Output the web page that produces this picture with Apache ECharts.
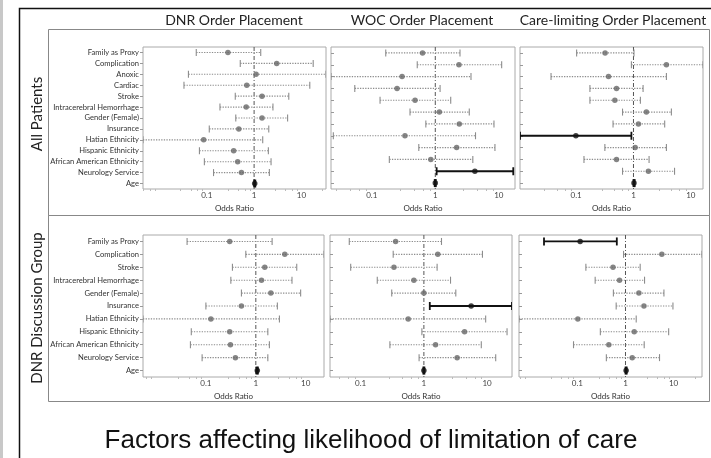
<!DOCTYPE html>
<html><head><meta charset="utf-8">
<script src="https://cdn.jsdelivr.net/npm/echarts@6/dist/echarts.min.js"></script>
<style>html,body{margin:0;padding:0;background:#fff}#c{width:711px;height:458px}</style>
</head><body><div id="c"></div>
<script>
// ---------- categories ----------
const categoriesAll = ['Family as Proxy','Complication','Anoxic','Cardiac','Stroke','Intracerebral Hemorrhage','Gender (Female)','Insurance','Hatian Ethnicity','Hispanic Ethnicity','African American Ethnicity','Neurology Service','Age'];
const categoriesAll12 = ['Family as Proxy','Complication','Anoxic','Stroke','Intracerebral Hemorrhage','Gender (Female)','Insurance','Hatian Ethnicity','Hispanic Ethnicity','African American Ethnicity','Neurology Service','Age'];
const categoriesDisc = ['Family as Proxy','Complication','Stroke','Intracerebral Hemorrhage','Gender (Female)','Insurance','Hatian Ethnicity','Hispanic Ethnicity','African American Ethnicity','Neurology Service','Age'];
const panelTitles = ['DNR Order Placement','WOC Order Placement','Care-limiting Order Placement'];
const rowTitles = ['All Patients','DNR Discussion Group'];
const tickLabels = ['0.1','1','10'];
const axisName = 'Odds Ratio';
const mainTitle = 'Factors affecting likelihood of limitation of care';

// ---------- axis limits (odds ratio) ----------
const axisMin = [0.0045, 0.0228, 0.0105, 0.0055, 0.0327, 0.0061];
const axisMax = [33, 18, 16.3, 23.2, 24.8, 39];

// ---------- All patients: DNR ----------
const allDnrOR  = [0.28, 3.0, 1.1, 0.70, 1.47, 0.68, 1.47, 0.475, 0.086, 0.37, 0.45, 0.54, 1.03];
const allDnrLo  = [0.060, 0.51, 0.041, 0.033, 0.40, 0.19, 0.41, 0.113, 0.0045, 0.070, 0.089, 0.139, 1.0];
const allDnrHi  = [1.38, 17.7, 33, 15, 5.4, 2.5, 5.1, 2.04, 1.52, 2.0, 2.28, 2.1, 1.06];
const allDnrSig = [0,0,0,0,0,0,0,0,0,0,0,0,1];
// ---------- All patients: WOC ----------
const allWocOR  = [0.63, 2.36, 0.30, 0.25, 0.48, 1.16, 2.39, 0.333, 2.17, 0.85, 4.2, 1.0];
const allWocLo  = [0.166, 0.52, 0.0228, 0.054, 0.135, 0.40, 0.71, 0.0248, 0.55, 0.189, 1.05, 0.98];
const allWocHi  = [2.45, 11.1, 3.65, 1.19, 1.75, 3.43, 8.4, 4.3, 8.7, 3.9, 16.9, 1.02];
const allWocSig = [0,0,0,0,0,0,0,0,0,0,1,1];
// ---------- All patients: Care-limiting ----------
const allClOR  = [0.32, 3.75, 0.367, 0.506, 0.473, 1.68, 1.22, 0.099, 1.07, 0.506, 1.82, 1.02];
const allClLo  = [0.102, 0.92, 0.0365, 0.174, 0.174, 0.644, 0.44, 0.0105, 0.317, 0.137, 0.644, 1.0];
const allClHi  = [1.02, 16.3, 3.75, 1.47, 1.32, 4.58, 3.5, 0.92, 3.75, 1.87, 5.2, 1.05];
const allClSig = [0,0,0,0,0,0,0,1,0,0,0,1];
// ---------- DNR discussion group: DNR ----------
const discDnrOR  = [0.30, 3.8, 1.51, 1.3, 2.0, 0.515, 0.126, 0.30, 0.31, 0.39, 1.07];
const discDnrLo  = [0.042, 0.63, 0.34, 0.316, 0.515, 0.10, 0.0055, 0.051, 0.049, 0.084, 1.03];
const discDnrHi  = [2.12, 23.2, 6.6, 5.3, 7.9, 2.7, 2.97, 1.74, 1.87, 1.74, 1.1];
const discDnrSig = [0,0,0,0,0,0,0,0,0,0,1];
// ---------- DNR discussion group: WOC ----------
const discWocOR  = [0.357, 1.66, 0.336, 0.695, 1.0, 5.6, 0.565, 4.4, 1.53, 3.36, 1.0];
const discWocLo  = [0.066, 0.327, 0.0695, 0.183, 0.31, 1.24, 0.0327, 0.93, 0.29, 0.84, 0.98];
const discWocHi  = [1.9, 8.45, 1.62, 2.64, 3.2, 24.8, 9.5, 20.7, 8.1, 13.7, 1.02];
const discWocSig = [0,0,0,0,0,1,0,0,0,0,1];
// ---------- DNR discussion group: Care-limiting ----------
const discClOR  = [0.114, 5.7, 0.55, 0.75, 1.9, 2.42, 0.102, 1.52, 0.45, 1.38, 1.03];
const discClLo  = [0.0202, 0.91, 0.15, 0.234, 0.56, 0.64, 0.0061, 0.30, 0.083, 0.40, 1.0];
const discClHi  = [0.66, 39, 2.02, 2.49, 6.3, 9.7, 1.67, 7.9, 2.45, 5.1, 1.06];
const discClSig = [1,0,0,0,0,0,0,0,0,0,1];

const panels = [
  {cats: categoriesAll,   or: allDnrOR,  lo: allDnrLo,  hi: allDnrHi,  sig: allDnrSig},
  {cats: categoriesAll12, or: allWocOR,  lo: allWocLo,  hi: allWocHi,  sig: allWocSig},
  {cats: categoriesAll12, or: allClOR,   lo: allClLo,   hi: allClHi,   sig: allClSig},
  {cats: categoriesDisc,  or: discDnrOR, lo: discDnrLo, hi: discDnrHi, sig: discDnrSig},
  {cats: categoriesDisc,  or: discWocOR, lo: discWocLo, hi: discWocHi, sig: discWocSig},
  {cats: categoriesDisc,  or: discClOR,  lo: discClLo,  hi: discClHi,  sig: discClSig}
];

// layout
const gridBoxes = [
  {left:143, top:47, width:183, height:142},
  {left:331, top:47, width:184, height:142},
  {left:520, top:47, width:183, height:142},
  {left:143, top:235, width:181, height:142},
  {left:330, top:235, width:182, height:142},
  {left:519, top:235, width:183, height:142}
];

const FONT = 'Lato, "Open Sans", sans-serif';
const GRAY = '#8c8c8c';
const DOT = '#666';

function logLabel(v) {
  const e = Math.log10(v);
  const r = Math.round(e);
  if (Math.abs(e - r) < 1e-6 && r >= -1 && r <= 1) return tickLabels[r + 1];
  return '';
}

function renderBar(params, api) {
  const lo = api.value(0), hi = api.value(1), yi = api.value(2), sig = api.value(3);
  const p0 = api.coord([lo, yi]);
  const p1 = api.coord([hi, yi]);
  const col = sig ? '#111' : GRAY;
  const lw = sig ? 1.8 : 1.1;
  const h = sig ? 4 : 3.5;
  return {
    type: 'group',
    children: [
      {type:'line', shape:{x1:p0[0], y1:p0[1], x2:p1[0], y2:p1[1]},
       style:{stroke:col, lineWidth:lw, lineDash: sig ? null : [1.3, 1.3]}},
      {type:'line', shape:{x1:p0[0], y1:p0[1]-h, x2:p0[0], y2:p0[1]+h}, style:{stroke:col, lineWidth:lw}},
      {type:'line', shape:{x1:p1[0], y1:p1[1]-h, x2:p1[0], y2:p1[1]+h}, style:{stroke:col, lineWidth:lw}}
    ]
  };
}

function renderRef(params, api) {
  const x = api.coord([api.value(0), 0])[0];
  const cs = params.coordSys;
  return {type:'line', shape:{x1:x, y1:cs.y, x2:x, y2:cs.y + cs.height},
          style:{stroke:'#555', lineWidth:1, lineDash:[4, 2, 1, 2]}};
}

const grids = [], xAxes = [], yAxes = [], series = [];
panels.forEach((p, i) => {
  const b = gridBoxes[i];
  grids.push({left:b.left, top:b.top, width:b.width, height:b.height, show:true,
              borderColor:'#aaa', borderWidth:1, backgroundColor:'transparent'});
  xAxes.push({type:'log', gridIndex:i, logBase:10, min:axisMin[i], max:axisMax[i],
    axisLine:{show:false}, axisTick:{show:false}, splitLine:{show:false},
    minorTick:{show:true, splitNumber:5, length:2, lineStyle:{color:'#bbb'}},
    axisLabel:{formatter:logLabel, fontSize:8, color:'#444', margin:2, fontFamily:FONT,
               showMinLabel:false, showMaxLabel:false},
    name: axisName, nameLocation:'middle', nameGap:15,
    nameTextStyle:{fontSize:8, color:'#333', fontFamily:FONT}});
  yAxes.push({type:'category', gridIndex:i, data:p.cats, inverse:true,
    axisLine:{show:false},
    axisTick:{show:true, inside:(i % 3 !== 0), length:3, alignWithLabel:true, lineStyle:{color:'#999'}},
    axisLabel:{show:(i % 3 === 0), fontSize:7.6, color:'#333', margin:4, fontFamily:FONT, interval:0},
    splitLine:{show:false}});
  // reference line at OR = 1
  series.push({type:'custom', xAxisIndex:i, yAxisIndex:i, renderItem:renderRef,
    data:[[1, p.cats[0]]], encode:{x:0, y:1}, silent:true, z:1});
  // error bars
  series.push({type:'custom', xAxisIndex:i, yAxisIndex:i, renderItem:renderBar, clip:true,
    data: p.cats.map((c, k) => [p.lo[k], p.hi[k], c, p.sig[k]]),
    encode:{x:[0, 1], y:2}, silent:true, z:2});
  // point estimates
  series.push({type:'scatter', xAxisIndex:i, yAxisIndex:i, symbol:'circle', symbolSize:5.5,
    data: p.cats.map((c, k) => ({value:[p.or[k], c],
      itemStyle:{color: p.sig[k] ? '#111' : DOT}})),
    silent:true, z:3});
});

const graphics = [
  {type:'rect', shape:{x:0, y:0, width:3, height:458}, style:{fill:'#c8c8c8'}},
  {type:'polyline', shape:{points:[[19.5, 458], [19.5, 8.5], [711, 8.5]]},
   style:{stroke:'#111', lineWidth:1.5, fill:null}},
  {type:'rect', shape:{x:48.5, y:29.5, width:661, height:186}, style:{stroke:'#888', fill:null, lineWidth:1}},
  {type:'rect', shape:{x:48.5, y:215.5, width:661, height:186}, style:{stroke:'#888', fill:null, lineWidth:1}},
  {type:'text', x:234, y:20, style:{text:panelTitles[0], fontSize:14, fontFamily:FONT, fill:'#222', align:'center', verticalAlign:'middle'}},
  {type:'text', x:422, y:20, style:{text:panelTitles[1], fontSize:14, fontFamily:FONT, fill:'#222', align:'center', verticalAlign:'middle'}},
  {type:'text', x:613, y:20, style:{text:panelTitles[2], fontSize:14, fontFamily:FONT, fill:'#222', align:'center', verticalAlign:'middle'}},
  {type:'text', x:37, y:114, rotation:Math.PI/2, style:{text:rowTitles[0], fontSize:15, fontFamily:FONT, fill:'#222', align:'center', verticalAlign:'middle'}},
  {type:'text', x:37, y:308, rotation:Math.PI/2, style:{text:rowTitles[1], fontSize:15, fontFamily:FONT, fill:'#222', align:'center', verticalAlign:'middle'}},
  {type:'text', x:371, y:441, style:{text:mainTitle, fontSize:26, fontFamily:'"Liberation Sans", Arial, sans-serif', fill:'#111', align:'center', verticalAlign:'middle'}}
];

const chart = echarts.init(document.getElementById('c'), null, {renderer:'canvas'});
chart.setOption({
  animation:false,
  backgroundColor:'#fff',
  grid:grids, xAxis:xAxes, yAxis:yAxes, series:series, graphic:graphics
});
</script>
</body></html>
